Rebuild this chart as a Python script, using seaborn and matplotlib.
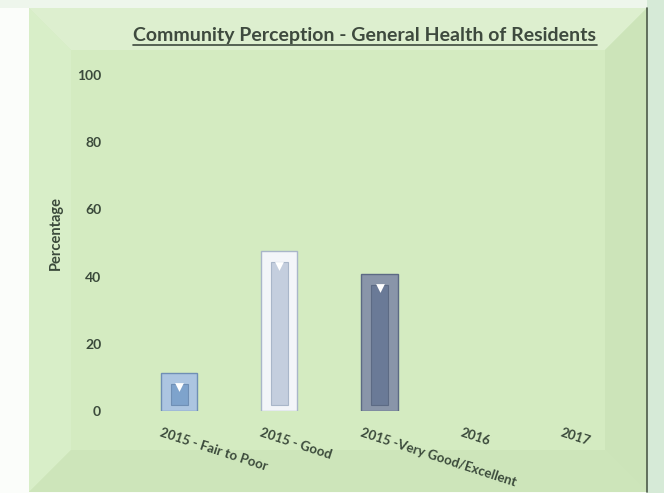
import matplotlib
matplotlib.use("Agg")
import matplotlib.pyplot as plt
import matplotlib.transforms as mtransforms
from matplotlib.patches import Rectangle, Polygon
from matplotlib.lines import Line2D
import seaborn as sns
import pandas as pd

categories = ["2015 - Fair to Poor", "2015 - Good", "2015 -Very Good/Excellent", "2016", "2017"]
values = [11.3, 47.5, 40.8, 0, 0]
yticks = [0, 20, 40, 60, 80, 100]
title = "Community Perception - General Health of Residents"
ylabel = "Percentage"

outer_colors = ["#a3c4ea", "#f2f5fa", "#8493ae", "#8493ae", "#8493ae"]
inner_colors = ["#7ea3cc", "#c4cede", "#6a7a97", "#6a7a97", "#6a7a97"]
edge_colors = ["#6f8fb5", "#a9b6c9", "#5c6a84", "#5c6a84", "#5c6a84"]

sns.set_theme(style="white")
plt.rcParams["font.family"] = ["Lato", "DejaVu Sans"]

W, H = 664, 493
fig = plt.figure(figsize=(W / 100, H / 100), dpi=100)
fig.patch.set_facecolor("#fbfdfa")

def fx(px):
    return px / W

def fy(py):
    return 1 - py / H

def add_rect(x0, y0, x1, y1, color):
    fig.patches.append(Rectangle((fx(x0), fy(y1)), fx(x1 - x0), fy(y0) - fy(y1),
                                 transform=fig.transFigure, facecolor=color,
                                 edgecolor="none", zorder=-2))

def poly(pts, color):
    fig.patches.append(Polygon([(fx(x), fy(y)) for x, y in pts], closed=True,
                               transform=fig.transFigure, facecolor=color,
                               edgecolor="none", zorder=-1))

# background outside panel
add_rect(0, 0, 664, 8, "#eef6ec")
add_rect(647, 0, 664, 493, "#d6ead7")

# panel with subtle bevel
L, T, R, B = 29, 8, 647, 492
bev = 42
add_rect(L, T, R, B, "#d4ebc1")
poly([(L, T), (R, T), (R - bev, T + bev), (L + bev, T + bev)], "#ddefcf")
poly([(L, T), (L + bev, T + bev), (L + bev, B - bev), (L, B)], "#d8eec8")
poly([(R, T), (R, B), (R - bev, B - bev), (R - bev, T + bev)], "#cce4b9")
poly([(L, B), (L + bev, B - bev), (R - bev, B - bev), (R, B)], "#cde5ba")
poly([(L + bev, T + bev), (R - bev, T + bev), (R - bev, B - bev), (L + bev, B - bev)], "#d4ebc1")
fig.lines.append(Line2D([fx(R), fx(R)], [fy(T), fy(B)], transform=fig.transFigure,
                        color="#4d5a4a", lw=1.2, zorder=1))

ax = fig.add_axes([fx(129), fy(411), fx(630) - fx(129), fy(75) - fy(411)])
ax.set_facecolor("none")
ax.set_zorder(2)

df = pd.DataFrame({"category": categories, "value": values})
sns.barplot(data=df, x="category", y="value", hue="category", palette=outer_colors,
            width=0.36, legend=False, ax=ax, linewidth=1.0, zorder=2)
for patch, ec, v in zip(ax.patches, edge_colors, values):
    patch.set_edgecolor(ec)
    if v <= 0:
        patch.set_linewidth(0)

# inner bevel of each bar
xs = list(range(len(categories)))
for x, v, c, ec in zip(xs, values, inner_colors, edge_colors):
    if v <= 0:
        continue
    b = 1.8
    top = v - 3.2 if v > 8 else v - 2.5
    ax.bar(x, top - b, bottom=b, width=0.17, color=c, edgecolor=ec, linewidth=0.8, zorder=3)
    ax.scatter([x], [top - 1.0], marker="v", s=40, color="white", zorder=4, linewidths=0)

ax.set_ylim(0, 100)
ax.set_xlim(-0.5, len(categories) - 0.5)
ax.set_yticks(yticks)
ax.set_yticklabels([str(t) for t in yticks])
for s in ax.spines.values():
    s.set_visible(False)
ax.tick_params(axis="y", length=0, pad=20, labelsize=10, labelcolor="#3b4a3b")
ax.tick_params(axis="x", length=0, pad=11, labelsize=9.5, labelcolor="#3b4a3b")
for lab in ax.get_yticklabels():
    lab.set_fontweight("bold")

ax.set_xticks(xs)
ax.set_xticklabels(categories)
offset = mtransforms.ScaledTranslation(-17 / 100, 0, fig.dpi_scale_trans)
for lab in ax.get_xticklabels():
    lab.set_rotation(-18)
    lab.set_ha("left")
    lab.set_va("top")
    lab.set_rotation_mode("anchor")
    lab.set_fontweight("bold")
    lab.set_transform(lab.get_transform() + offset)

ax.set_xlabel("")
ax.set_ylabel("")
fig.text(fx(56), fy(233), ylabel, rotation=90, ha="center", va="center",
         fontsize=10.5, fontweight="bold", color="#3b4a3b")

t = fig.text(fx(365), fy(35), title, ha="center", va="center", fontsize=14,
             fontweight="bold", color="#3e4a3e")
fig.canvas.draw()
bb = t.get_window_extent()
fig.lines.append(Line2D([bb.x0 / W, bb.x1 / W], [(bb.y0 - 1) / H, (bb.y0 - 1) / H],
                        transform=fig.transFigure, color="#3e4a3e", lw=1.2))

fig.savefig("out.png", dpi=100, facecolor=fig.get_facecolor())
